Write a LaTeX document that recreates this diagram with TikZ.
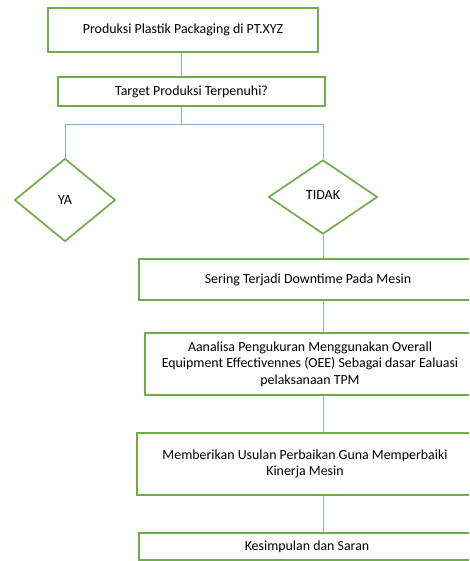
\documentclass[tikz,border=0pt]{standalone}
\usepackage{fontspec}
\setmainfont{Carlito}
\usetikzlibrary{shapes.geometric}
\definecolor{boxgreen}{RGB}{112,173,71}
\definecolor{linkblue}{RGB}{140,175,210}
\tikzset{
  x=1pt, y=-1pt,
  box/.style={draw=boxgreen, line width=1.7pt, fill=white, rectangle, inner sep=0pt, align=center,
    font=\fontsize{13.9}{16.5}\selectfont},
  choice/.style={draw=boxgreen, line width=1.7pt, fill=white, diamond, inner sep=0pt,
    font=\fontsize{14}{16}\selectfont},
  link/.style={draw=linkblue, line width=0.9pt}
}
\begin{document}
\begin{tikzpicture}
\useasboundingbox (0,0) rectangle (469,561);
\clip (0,0) rectangle (469,561);
\fill[white] (0,0) rectangle (469,561);
\coordinate (split) at (181,124);
\node[box, minimum width=270pt, minimum height=44pt] (b1) at (183,30) {Produksi Plastik Packaging di PT.XYZ};
\node[box, minimum width=267pt, minimum height=29pt] (b2) at (191.5,91.5) {Target Produksi Terpenuhi?};
\node[choice, minimum width=101pt, minimum height=83pt] (ya) at (65,200) {YA};
\node[choice, minimum width=109pt, minimum height=74pt] (tidak) at (323,197) {\raisebox{4pt}{TIDAK}};
\node[box, minimum width=338pt, minimum height=41pt] (b3) at (308,279.5) {Sering Terjadi Downtime Pada Mesin};
\node[box, minimum width=330pt, minimum height=62pt] (b4) at (310,364) {Aanalisa Pengukuran Menggunakan Overall\\Equipment Effectivennes (OEE) Sebagai dasar Ealuasi\\pelaksanaan TPM};
\node[box, minimum width=336pt, minimum height=62pt] (b5) at (305,464) {\raisebox{2pt}{\begin{tabular}{@{}c@{}}Memberikan Usulan Perbaikan Guna Memperbaiki\\[-0.5pt]Kinerja Mesin\end{tabular}}};
\node[box, minimum width=336pt, minimum height=27pt] (b6) at (307,546.5) {Kesimpulan dan Saran};
\draw[link] (b1.south -| split) -- (b2.north -| split);
\draw[link] (b2.south -| split) -- (split);
\draw[link] (ya.north) -- (ya.north |- split) -- (tidak.north |- split) -- (tidak.north);
\draw[link] (tidak.south) -- (tidak.south |- b3.north);
\draw[link] (b3.south -| tidak) -- (b4.north -| tidak);
\draw[link] (b4.south -| tidak) -- (b5.north -| tidak);
\draw[link] (b5.south -| tidak) -- (b6.north -| tidak);
\end{tikzpicture}
\end{document}
